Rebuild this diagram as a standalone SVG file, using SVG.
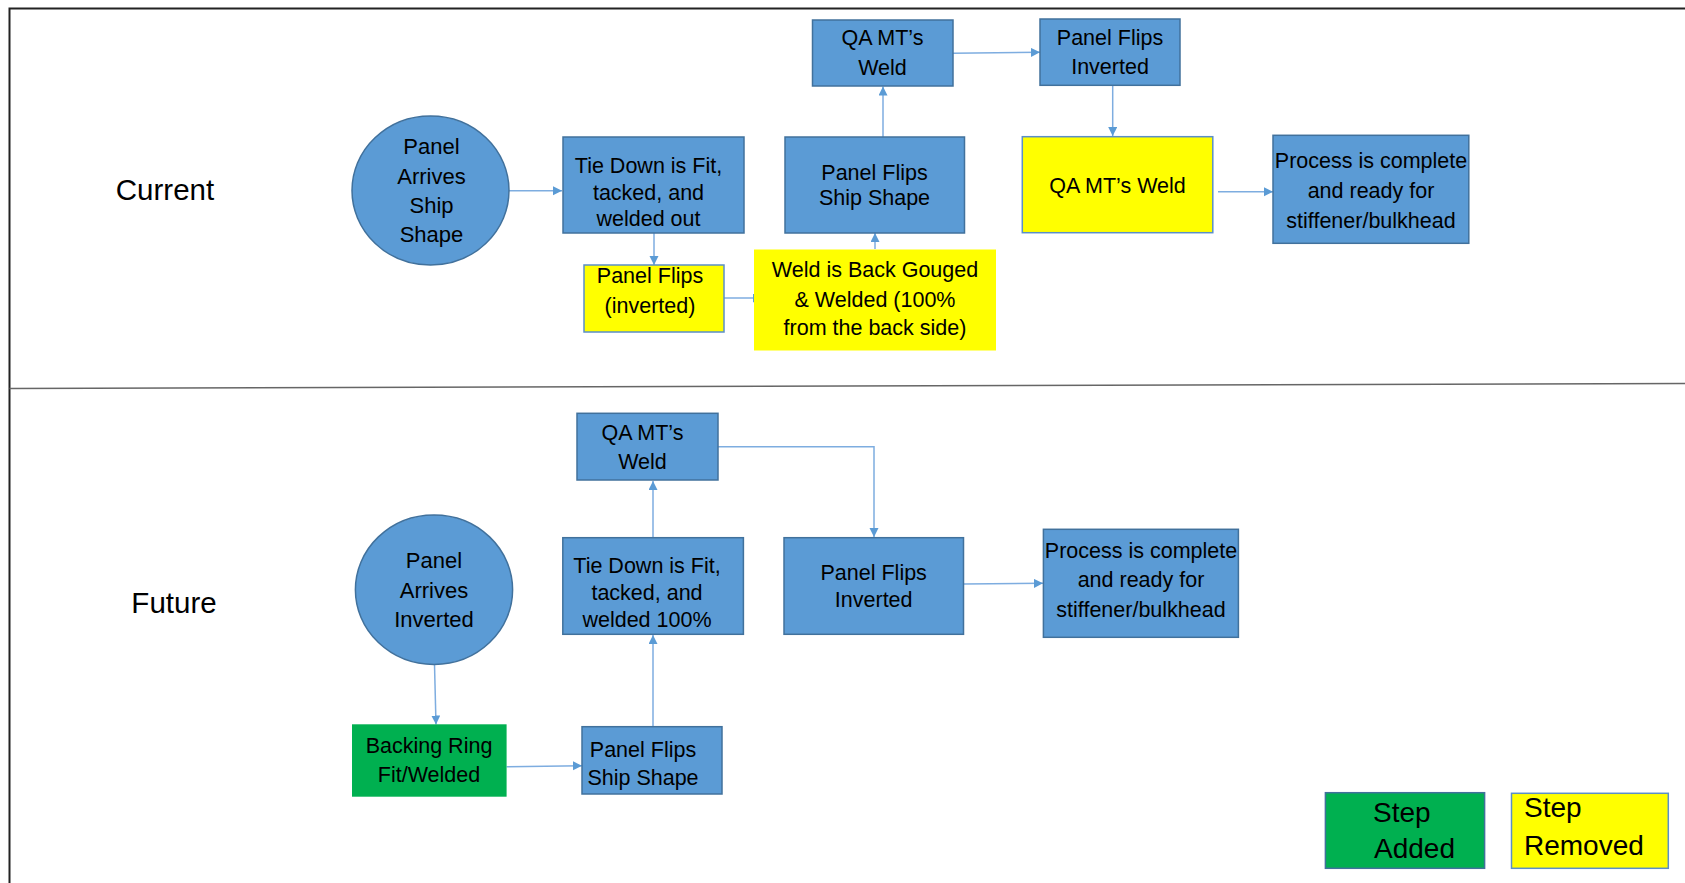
<svg xmlns="http://www.w3.org/2000/svg" width="1685" height="883" viewBox="0 0 1685 883">
<style>
text{font-family:"Liberation Sans",Arial,sans-serif;fill:#000;text-anchor:middle}
.t{font-size:21.5px}
.c{font-size:22px}
.h{font-size:29.5px}
.lg{font-size:28px;text-anchor:start}
.b{fill:#5B9BD5;stroke:#41719C;stroke-width:1.5}
.y{fill:#FFFF00;stroke:#5B8FC8;stroke-width:1.5}
.yn{fill:#FFFF00}
.g{fill:#00B050}
.gl{fill:#00B050;stroke:#41719C;stroke-width:1.5}
.cn{fill:none;stroke:#7EADE0;stroke-width:1.5}
</style>
<defs>
<marker id="ah" markerUnits="userSpaceOnUse" markerWidth="10" markerHeight="10" refX="9" refY="4.5" orient="auto">
<path d="M0,0 L9,4.5 L0,9 z" fill="#5B9BD5"/>
</marker>
</defs>
<rect width="1685" height="883" fill="#fff"/>
<g id="frame">
<path d="M9.5,883 V8.5 H1685" fill="none" stroke="#222" stroke-width="2"/>
<path d="M9.5,388.5 L1685,383.5" fill="none" stroke="#666" stroke-width="1.5"/>
</g>
<g id="labels">
<text class="h" x="165" y="200">Current</text>
<text class="h" x="174" y="613">Future</text>
</g>
<g id="connectors">
<path class="cn" d="M509,190.7 H562" marker-end="url(#ah)"/>
<path class="cn" d="M654,233 V265" marker-end="url(#ah)"/>
<path class="cn" d="M724,298 H762" marker-end="url(#ah)"/>
<path class="cn" d="M875,249 V233" marker-end="url(#ah)"/>
<path class="cn" d="M883,137 V86.5" marker-end="url(#ah)"/>
<path class="cn" d="M953,53.3 L1040,52.3" marker-end="url(#ah)"/>
<path class="cn" d="M1112.7,85.3 V136" marker-end="url(#ah)"/>
<path class="cn" d="M1218,191.7 H1273" marker-end="url(#ah)"/>
<path class="cn" d="M718,446.7 H874 V537" marker-end="url(#ah)"/>
<path class="cn" d="M653,537.7 V481" marker-end="url(#ah)"/>
<path class="cn" d="M653,726.7 V635" marker-end="url(#ah)"/>
<path class="cn" d="M434.5,664.5 L436,724.5" marker-end="url(#ah)"/>
<path class="cn" d="M506.6,766.7 L582,765.7" marker-end="url(#ah)"/>
<path class="cn" d="M963.5,584 L1043,583.3" marker-end="url(#ah)"/>
</g>
<g id="cur-arrives">
<ellipse class="b" cx="430.5" cy="190.5" rx="78.5" ry="74.5"/>
<text class="c" x="431.5" y="154">Panel</text>
<text class="c" x="431.5" y="183.5">Arrives</text>
<text class="c" x="431.5" y="212.5">Ship</text>
<text class="c" x="431.5" y="242">Shape</text>
</g>
<g id="cur-tiedown">
<rect class="b" x="563" y="137" width="181" height="96"/>
<text class="t" x="648.5" y="173">Tie Down is Fit,</text>
<text class="t" x="648.5" y="199.5">tacked, and</text>
<text class="t" x="648.5" y="226">welded out</text>
</g>
<g id="cur-flip-inv">
<rect class="y" x="584" y="265" width="140" height="67"/>
<text class="t" x="650" y="283">Panel Flips</text>
<text class="t" x="650" y="313">(inverted)</text>
</g>
<g id="cur-backgouge">
<rect class="yn" x="754" y="249.5" width="242" height="101"/>
<text class="t" x="875" y="277">Weld is Back Gouged</text>
<text class="t" x="875" y="306.5">&amp; Welded (100%</text>
<text class="t" x="875" y="335">from the back side)</text>
</g>
<g id="cur-flip-ship">
<rect class="b" x="785" y="137" width="179.5" height="96"/>
<text class="t" x="874.5" y="180">Panel Flips</text>
<text class="t" x="874.5" y="205">Ship Shape</text>
</g>
<g id="cur-qa1">
<rect class="b" x="812.5" y="20" width="140.5" height="66"/>
<text class="t" x="882.5" y="45">QA MT’s</text>
<text class="t" x="882.5" y="75">Weld</text>
</g>
<g id="cur-flip-inv2">
<rect class="b" x="1040" y="19" width="140" height="66.3"/>
<text class="t" x="1110" y="45">Panel Flips</text>
<text class="t" x="1110" y="74">Inverted</text>
</g>
<g id="cur-qa2">
<rect class="y" x="1022.3" y="136.7" width="190.5" height="96"/>
<text class="t" x="1117.5" y="193">QA MT’s Weld</text>
</g>
<g id="cur-complete">
<rect class="b" x="1273" y="135.3" width="195.8" height="108"/>
<text class="t" x="1371" y="168">Process is complete</text>
<text class="t" x="1371" y="198">and ready for</text>
<text class="t" x="1371" y="228">stiffener/bulkhead</text>
</g>
<g id="fut-arrives">
<ellipse class="b" cx="434" cy="589.7" rx="78.6" ry="74.7"/>
<text class="c" x="434" y="568">Panel</text>
<text class="c" x="434" y="598">Arrives</text>
<text class="c" x="434" y="627">Inverted</text>
</g>
<g id="fut-backing">
<rect class="g" x="352" y="724.3" width="154.6" height="72.4"/>
<text class="t" x="429" y="753.3">Backing Ring</text>
<text class="t" x="429" y="781.7">Fit/Welded</text>
</g>
<g id="fut-flip-ship">
<rect class="b" x="582" y="726.7" width="140" height="67.3"/>
<text class="t" x="643" y="756.7">Panel Flips</text>
<text class="t" x="643" y="785">Ship Shape</text>
</g>
<g id="fut-tiedown">
<rect class="b" x="562.8" y="537.7" width="180.6" height="96.6"/>
<text class="t" x="647" y="573">Tie Down is Fit,</text>
<text class="t" x="647" y="600">tacked, and</text>
<text class="t" x="647" y="626.7">welded 100%</text>
</g>
<g id="fut-qa">
<rect class="b" x="577" y="413.3" width="141" height="66.7"/>
<text class="t" x="642.5" y="440">QA MT’s</text>
<text class="t" x="642.5" y="469">Weld</text>
</g>
<g id="fut-flip-inv">
<rect class="b" x="784" y="537.7" width="179.5" height="96.6"/>
<text class="t" x="873.7" y="580">Panel Flips</text>
<text class="t" x="873.7" y="606.7">Inverted</text>
</g>
<g id="fut-complete">
<rect class="b" x="1043.4" y="529.3" width="195" height="108"/>
<text class="t" x="1141" y="558.3">Process is complete</text>
<text class="t" x="1141" y="587.3">and ready for</text>
<text class="t" x="1141" y="616.7">stiffener/bulkhead</text>
</g>
<g id="legend-added">
<rect class="gl" x="1325.4" y="792.7" width="159.2" height="75.6"/>
<text class="lg" x="1373" y="821.7">Step</text>
<text class="lg" x="1374" y="858.3">Added</text>
</g>
<g id="legend-removed">
<rect class="y" x="1511.5" y="793.3" width="156.8" height="75"/>
<text class="lg" x="1524" y="816.7">Step</text>
<text class="lg" x="1524" y="855">Removed</text>
</g>
</svg>
